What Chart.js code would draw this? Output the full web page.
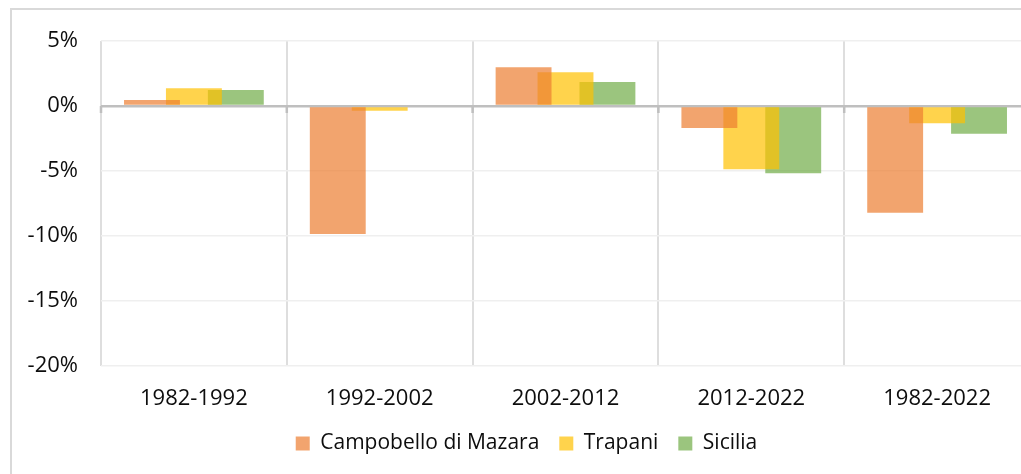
<!DOCTYPE html>
<html>
<head>
<meta charset="utf-8">
<script src="https://cdn.jsdelivr.net/npm/chart.js@4.4.0/dist/chart.umd.min.js"></script>
<style>
  html, body { margin: 0; padding: 0; background: #fff; overflow: hidden; width: 1021px; height: 474px; }
  #frame { position: absolute; left: 10px; top: 8px; width: 1100px; height: 600px; border: 2px solid #d9d9d9; box-sizing: border-box; }
  #wrap { position: absolute; left: 10px; top: 8px; width: 1033px; height: 466px; }
</style>
</head>
<body>
<div id="frame"></div>
<div id="wrap"><canvas id="c"></canvas></div>
<script>
const categories = ['1982-1992', '1992-2002', '2002-2012', '2012-2022', '1982-2022'];
const campobello = [0.46, -9.85, 2.98, -1.69, -8.21];
const trapani = [1.36, -0.36, 2.59, -4.87, -1.33];
const sicilia = [1.23, 0.0, 1.85, -5.18, -2.13];
const yTicks = [5, 0, -5, -10, -15, -20];

const FONT = 'Open Sans';

// Tick marks of the horizontal axis crossing at 0, placed on category boundaries
const zeroAxisTicks = {
  id: 'zeroAxisTicks',
  afterDatasetsDraw(chart) {
    const x = chart.scales.x, y = chart.scales.y, ctx = chart.ctx;
    const y0 = y.getPixelForValue(0);
    const n = chart.data.labels.length;
    const step = (x.right - x.left) / n;
    ctx.save();
    ctx.strokeStyle = '#bfbfbf';
    ctx.lineWidth = 2.5;
    for (let i = 0; i <= n; i++) {
      const px = x.left + i * step;
      ctx.beginPath();
      ctx.moveTo(px, y0);
      ctx.lineTo(px, y0 + 7);
      ctx.stroke();
    }
    ctx.restore();
  }
};

new Chart(document.getElementById('c'), {
  type: 'bar',
  data: {
    labels: categories,
    datasets: [
      { label: 'Campobello di Mazara', data: campobello, backgroundColor: 'rgba(237,125,49,0.7)' },
      { label: 'Trapani', data: trapani, backgroundColor: 'rgba(255,192,0,0.7)' },
      { label: 'Sicilia', data: sicilia, backgroundColor: 'rgba(112,173,71,0.7)' }
    ]
  },
  plugins: [zeroAxisTicks],
  options: {
    responsive: true,
    maintainAspectRatio: false,
    animation: false,
    devicePixelRatio: 1,
    layout: { padding: { top: 33, right: 13, bottom: 10, left: 13 } },
    datasets: { bar: { categoryPercentage: 0.677, barPercentage: 1.333, borderWidth: 0 } },
    scales: {
      x: {
        grid: { display: true, offset: true, color: '#dedede', lineWidth: 2, drawTicks: false },
        border: { display: false },
        ticks: { color: '#0d0d0d', font: { family: FONT, size: 22 }, padding: 20, maxRotation: 0 },
        afterFit: (s) => { s.height = 47; s.paddingLeft = 0; s.paddingRight = 0; }
      },
      y: {
        min: -20, max: 5,
        afterBuildTicks: (s) => { s.ticks = yTicks.map(v => ({ value: v })); },
        grid: {
          drawTicks: false,
          color: (ctx) => ctx.tick && ctx.tick.value === 0 ? '#bfbfbf' : '#efefef',
          lineWidth: (ctx) => ctx.tick && ctx.tick.value === 0 ? 2.5 : 1.5
        },
        border: { display: false },
        ticks: { color: '#0d0d0d', font: { family: FONT, size: 22 }, padding: 23, callback: (v) => v + '%' },
        afterFit: (s) => { s.width = 78; s.paddingTop = 0; s.paddingBottom = 0; }
      }
    },
    plugins: {
      legend: {
        position: 'bottom',
        labels: { color: '#0d0d0d', font: { family: FONT, size: 21 }, boxWidth: 14, boxHeight: 14, padding: 20 }
      },
      tooltip: { enabled: false }
    }
  }
});
</script>
</body>
</html>
